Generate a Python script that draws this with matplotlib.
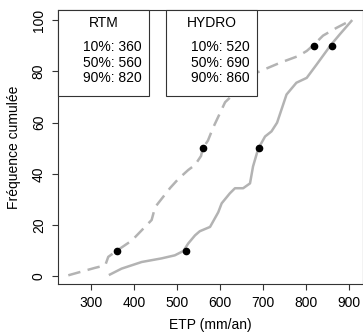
import matplotlib
matplotlib.use('Agg')
from matplotlib import pyplot as plt
from matplotlib.patches import Rectangle

plt.rcParams['font.family'] = ['Liberation Sans', 'DejaVu Sans']

# courbes de fréquence cumulée
rtm_x = [247, 309, 333, 340, 360, 395, 441, 449, 484, 503, 526, 542, 556, 560,
         572, 584, 612, 685, 740, 782, 802, 819, 840, 871, 902]
rtm_y = [0.4, 3.3, 4.3, 7.6, 10, 14, 22, 27, 34.5, 38, 41.5, 43.5, 47, 50,
         53, 58, 68, 79.5, 83.4, 86, 88, 90.5, 94, 97, 99.7]

hydro_x = [344, 371, 418, 464, 495, 515, 526, 542, 553, 577, 596, 604, 623, 635,
           654, 670, 677, 689, 705, 720, 733, 745, 755, 778, 802, 825, 848, 858, 879, 906]
hydro_y = [0.7, 3, 5.6, 7, 8.2, 9.9, 12.8, 16, 17.6, 19.3, 25, 28.5, 32.4, 34.4,
           34.4, 36.3, 42.9, 49.8, 54.6, 56.6, 60, 66, 71, 75.6, 77.5, 82.7, 88, 90.3, 94.5, 99.7]

# quantiles
q_labels = ['10%', '50%', '90%']
q_freq = [10, 50, 90]
rtm_q = [360, 560, 820]
hydro_q = [520, 690, 860]

grey = '#b3b3b3'
fs = 10

fig = plt.figure(figsize=(3.63, 3.35), dpi=100)
ax = fig.add_axes([58 / 363, 51 / 335, 305 / 363, 274 / 335])

ax.plot(rtm_x, rtm_y, color=grey, lw=1.8, linestyle=(0, (5, 3)))
ax.plot(hydro_x, hydro_y, color=grey, lw=1.8)
ax.plot(rtm_q, q_freq, 'o', color='black', ms=4.5)
ax.plot(hydro_q, q_freq, 'o', color='black', ms=4.5)

ax.set_xlim(223, 933)
ax.set_ylim(-3, 104)
ax.set_xticks([300, 400, 500, 600, 700, 800, 900])
ax.set_yticks([0, 20, 40, 60, 80, 100])
ax.tick_params(labelsize=fs, length=4.3, width=0.8, color='#333333')
ax.tick_params(axis='x', pad=4.5)
ax.tick_params(axis='y', pad=4.5, labelrotation=90)
for t in ax.get_yticklabels():
    t.set_va('center')
for s in ax.spines.values():
    s.set_color('#333333')
    s.set_linewidth(0.8)

ax.set_xlabel('ETP (mm/an)', fontsize=fs)
ax.set_ylabel('Fréquence cumulée', fontsize=fs)
ax.xaxis.set_label_coords(0.5, -0.125)
ax.yaxis.set_label_coords(-0.12, 0.5)

# boîtes de légende
boxes = [('RTM', rtm_q, 0.0, 0.298), ('HYDRO', hydro_q, 0.354, 0.652)]
for name, qs, x0, x1 in boxes:
    ax.add_patch(Rectangle((x0, 0.686), x1 - x0, 0.314, transform=ax.transAxes,
                           facecolor='white', edgecolor='#333333', lw=0.8,
                           zorder=5, clip_on=False))
    xc = (x0 + x1) / 2
    ax.text(xc, 0.952, name, transform=ax.transAxes, ha='center', va='center',
            fontsize=fs, zorder=6)
    for i, (lab, q) in enumerate(zip(q_labels, qs)):
        ax.text(xc + 0.03, 0.865 - i * 0.057, f'{lab}: {q}', transform=ax.transAxes,
                ha='center', va='center', fontsize=fs, zorder=6)

fig.savefig('out.png', dpi=100)
